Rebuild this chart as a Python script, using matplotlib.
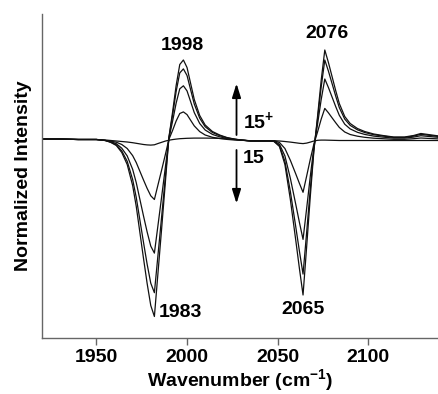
import matplotlib
matplotlib.use("Agg")
import matplotlib.pyplot as plt

# IR difference spectra, 5 traces (flat first trace + 4 growing ones)

plt.rcParams['font.family'] = ['Liberation Sans', 'DejaVu Sans']
plt.rcParams['font.weight'] = 'bold'
plt.rcParams['mathtext.fontset'] = 'custom'
plt.rcParams['mathtext.rm'] = 'Liberation Sans:bold'
plt.rcParams['mathtext.bf'] = 'Liberation Sans:bold'

# %% data

wavenumber = [1920, 1930, 1940, 1950, 1955, 1958, 1961, 1964, 1967, 1970,
              1972, 1974, 1976, 1978, 1980, 1982, 1984, 1986, 1988, 1990,
              1992, 1994, 1996, 1998, 2000, 2002, 2004, 2007, 2010, 2014,
              2018, 2022, 2026, 2030, 2035, 2040, 2045, 2048, 2051, 2054,
              2057, 2060, 2062, 2064, 2066, 2068, 2070, 2072, 2074, 2076,
              2078, 2080, 2082, 2084, 2087, 2090, 2094, 2098, 2103, 2108,
              2114, 2120, 2125, 2129, 2133, 2139]

trace_0 = [1.5, 1.5, 1.0, 1.0, 0.5, 0.0, -0.5, -1.0, -1.5, -2.2,
           -2.8, -3.4, -4.0, -4.4, -4.6, -4.3, -3.0, -1.8, -0.6, 0.3,
           0.9, 1.4, 1.8, 2.0, 2.2, 2.3, 2.4, 2.4, 2.4, 2.3,
           2.1, 1.8, 1.2, 0.5, -0.3, -0.5, -0.3, -0.2, -0.5, -1.0,
           -1.6, -2.3, -2.8, -3.1, -2.6, -1.6, -0.5, 0.2, 0.4, 0.4,
           0.3, 0.2, 0.1, 0.0, 0.0, 0.0, 0.0, 0.0, 0.0, 0.0,
           0.0, 0.0, 0.0, 0.0, 0.0, 0.0]

trace_1 = [1.5, 1.5, 1.0, 1.0, 0.0, -0.7, -1.7, -4.0, -8.0, -15.1,
           -22.1, -30.8, -39.5, -47.9, -55.3, -59.0, -44.2, -29.5, -14.4, 1.1,
           9.9, 19.5, 27.0, 28.6, 25.9, 20.2, 14.6, 8.9, 5.5, 3.2,
           2.0, 1.1, 0.5, 0.2, -0.2, -0.2, -0.2, -0.3, -2.0, -8.0,
           -19.8, -33.5, -42.9, -51.8, -35.5, -18.8, -3.4, 8.5, 21.3, 32.1,
           27.7, 22.7, 17.8, 13.1, 8.5, 6.0, 4.3, 3.2, 2.3, 1.8,
           1.2, 1.2, 1.8, 2.5, 2.1, 1.6]

trace_2 = [1.5, 1.5, 1.0, 1.0, 0.0, -1.3, -3.2, -7.7, -15.4, -28.8,
           -42.2, -58.9, -75.5, -91.5, -105.6, -112.6, -84.5, -56.3, -27.5, 2.0,
           19.0, 37.4, 51.7, 54.7, 49.6, 38.8, 27.9, 17.0, 10.5, 6.1,
           3.7, 2.0, 1.0, 0.3, -0.4, -0.4, -0.4, -0.6, -3.8, -15.4,
           -37.8, -64.0, -81.9, -98.9, -67.8, -35.8, -6.4, 16.3, 40.8, 61.5,
           53.0, 43.5, 34.0, 25.2, 16.3, 11.6, 8.2, 6.1, 4.4, 3.4,
           2.4, 2.4, 3.4, 4.8, 4.1, 3.1]

trace_3 = [1.5, 1.5, 1.0, 1.0, 0.0, -1.7, -4.3, -10.4, -20.8, -39.0,
           -57.0, -79.6, -102.0, -123.7, -142.7, -152.2, -114.2, -76.1, -37.2, 2.7,
           24.9, 49.0, 67.6, 71.6, 65.0, 50.7, 36.5, 22.3, 13.8, 8.0,
           4.9, 2.7, 1.3, 0.4, -0.5, -0.5, -0.5, -0.9, -5.2, -20.8,
           -51.0, -86.5, -110.7, -133.6, -91.7, -48.4, -8.7, 21.4, 53.4, 80.5,
           69.4, 57.0, 44.5, 32.9, 21.4, 15.1, 10.7, 8.0, 5.8, 4.5,
           3.1, 3.1, 4.4, 6.2, 5.3, 4.0]

trace_4 = [1.5, 1.5, 1.0, 1.0, 0.0, -2.0, -5.0, -12.0, -24.0, -45.0,
           -66.0, -92.0, -118.0, -143.0, -165.0, -176.0, -132.0, -88.0, -43.0, 3.0,
           28.0, 55.0, 76.0, 80.5, 73.0, 57.0, 41.0, 25.0, 15.5, 9.0,
           5.5, 3.0, 1.5, 0.5, -0.5, -0.5, -0.5, -1.0, -6.0, -24.0,
           -59.0, -100.0, -128.0, -154.5, -106.0, -56.0, -10.0, 24.0, 60.0, 90.5,
           78.0, 64.0, 50.0, 37.0, 24.0, 17.0, 12.0, 9.0, 6.5, 5.0,
           3.5, 3.5, 5.0, 7.0, 6.0, 4.5]

traces = [trace_0, trace_1, trace_2, trace_3, trace_4]

# peak labels : (text, x, y)
peak_labels = [('1998', 1997.5, 95.5),
               ('2076', 2077.0, 107.5),
               ('1983', 1996.6, -172.0),
               ('2065', 2064.1, -169.5)]

# %% figure

fig = plt.figure(figsize=(4.39, 3.94), dpi=100)
ax = fig.add_axes([42 / 439, 56 / 394, 397 / 439, 324 / 394])

for tr in traces:
    ax.plot(wavenumber, tr, color='#111111', linewidth=0.9)

ax.set_xlim(1920, 2139)
ax.set_ylim(-197.5, 126.5)

ax.set_xticks([1950, 2000, 2050, 2100])
ax.set_yticks([])
ax.tick_params(axis='x', direction='out', length=5, width=1, color='#666666',
               labelsize=14, pad=3)
for lab in ax.get_xticklabels():
    lab.set_fontweight('bold')

for side in ['top', 'right']:
    ax.spines[side].set_visible(False)
for side in ['left', 'bottom']:
    ax.spines[side].set_color('#666666')
    ax.spines[side].set_linewidth(1.0)

ax.set_xlabel(r'Wavenumber (cm$^{-1}$)', fontsize=14, fontweight='bold', labelpad=1)
ax.set_ylabel('Normalized Intensity', fontsize=14, fontweight='bold', labelpad=7)

# peak labels
for txt, xx, yy in peak_labels:
    ax.text(xx, yy, txt, ha='center', va='center', fontsize=14, fontweight='bold')

# arrows
arrow_kw = dict(arrowstyle='-|>,head_width=0.22,head_length=0.7', color='black',
                lw=1.3, mutation_scale=12, shrinkA=0, shrinkB=0)
ax.annotate('', xy=(2027.3, 57), xytext=(2027.3, 5.5), arrowprops=arrow_kw)
ax.annotate('', xy=(2027.3, -63), xytext=(2027.3, -9.5), arrowprops=arrow_kw)

ax.text(2030.8, 19, r'15$^{+}$', ha='left', va='center', fontsize=14, fontweight='bold')
ax.text(2030.8, -18, '15', ha='left', va='center', fontsize=14, fontweight='bold')

fig.savefig('out.png', dpi=100)
